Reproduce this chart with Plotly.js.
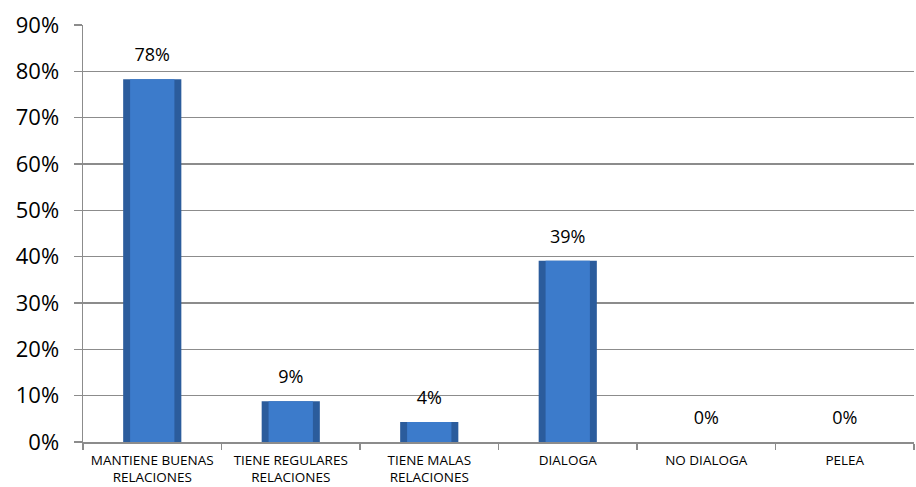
<!DOCTYPE html>
<html>
<head>
<meta charset="utf-8">
<script src="https://cdn.plot.ly/plotly-3.0.1.min.js"></script>
<style>html,body{margin:0;padding:0;background:#fff;}#chart{width:916px;height:487px;}</style>
</head>
<body>
<div id="chart"></div>
<script>
const categories = ["MANTIENE BUENAS<br>RELACIONES", "TIENE REGULARES<br>RELACIONES", "TIENE MALAS<br>RELACIONES", "DIALOGA", "NO DIALOGA", "PELEA"];
const values = [0.783, 0.088, 0.043, 0.391, 0, 0];
const yTickVals = [0, 0.1, 0.2, 0.3, 0.4, 0.5, 0.6, 0.7, 0.8, 0.9];

const font = "'Open Sans', 'Liberation Sans', sans-serif";

const outer = {
  type: 'bar', x: categories, y: values, width: 0.42,
  marker: {color: '#2b5c9c', line: {width: 0}},
  hoverinfo: 'skip', showlegend: false
};
const inner = {
  type: 'bar', x: categories, y: values, width: 0.32,
  marker: {color: '#3c7bcb', line: {width: 0}},
  hoverinfo: 'skip', showlegend: false
};
const labels = {
  type: 'scatter', mode: 'markers+text', x: categories, y: values,
  text: values.map(v => Math.round(v * 100) + '%'),
  textposition: 'top center',
  textfont: {family: font, size: 18, color: '#000'},
  marker: {size: 20, color: 'rgba(0,0,0,0)'},
  hoverinfo: 'skip', showlegend: false, cliponaxis: false
};

const layout = {
  width: 916, height: 487,
  margin: {l: 83, r: 2, t: 25, b: 45},
  paper_bgcolor: '#fff', plot_bgcolor: '#fff',
  barmode: 'overlay',
  font: {family: font, color: '#000'},
  xaxis: {
    type: 'category', tickson: 'boundaries', ticks: 'outside', ticklen: 6, tickcolor: '#8c8c8c', tickwidth: 1.5,
    showline: true, linecolor: '#8c8c8c', linewidth: 1.5, showgrid: false,
    tickfont: {family: font, size: 13.5, color: '#000'}, zeroline: false, ticklabelstandoff: 5
  },
  yaxis: {
    range: [0, 0.9], tickvals: yTickVals, tickformat: '.0%',
    ticks: 'outside', ticklen: 8, tickcolor: '#8c8c8c', tickwidth: 1.5,
    showline: true, linecolor: '#8c8c8c', linewidth: 1.5,
    showgrid: true, gridcolor: '#8c8c8c', gridwidth: 1.5, zeroline: false,
    tickfont: {family: font, size: 22, color: '#000'}, ticklabelstandoff: 10
  }
};

Plotly.newPlot('chart', [outer, inner, labels], layout, {displayModeBar: false, staticPlot: true});
</script>
</body>
</html>
